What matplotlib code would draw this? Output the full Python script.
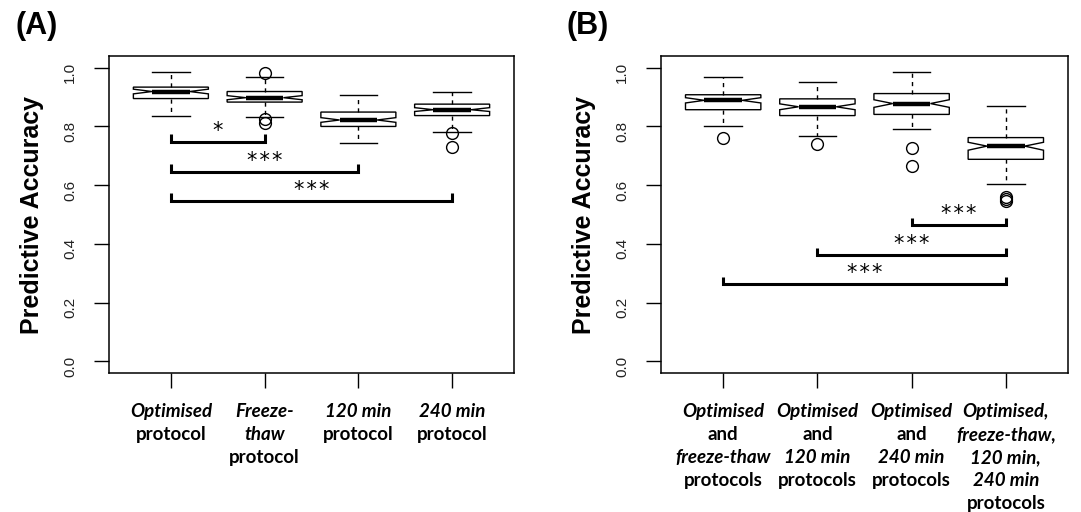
import matplotlib
matplotlib.use("Agg")
import matplotlib.pyplot as plt

plt.rcParams['font.family'] = ['Liberation Sans', 'DejaVu Sans']

# box statistics read per group: lower whisker, q1, median, q3, upper whisker
A_WHISLO = [0.837, 0.832, 0.743, 0.781]
A_Q1 = [0.895, 0.883, 0.800, 0.837]
A_MED = [0.919, 0.898, 0.822, 0.857]
A_Q3 = [0.934, 0.919, 0.849, 0.876]
A_WHISHI = [0.985, 0.968, 0.908, 0.919]
A_CILO = [0.911, 0.891, 0.814, 0.851]
A_CIHI = [0.927, 0.905, 0.830, 0.864]
A_FLIERS = [[], [0.982, 0.826, 0.813], [], [0.776, 0.729]]

B_WHISLO = [0.801, 0.768, 0.792, 0.604]
B_Q1 = [0.857, 0.837, 0.841, 0.688]
B_MED = [0.889, 0.867, 0.878, 0.733]
B_Q3 = [0.908, 0.894, 0.912, 0.762]
B_WHISHI = [0.968, 0.952, 0.986, 0.871]
B_CILO = [0.880, 0.857, 0.865, 0.719]
B_CIHI = [0.898, 0.877, 0.891, 0.746]
B_FLIERS = [[0.762], [0.740], [0.726, 0.664], [0.560, 0.553, 0.547]]

# significance brackets: (from group, to group, height, stars)
A_SIG = [(1, 2, 0.748, '*'), (1, 3, 0.646, '***'), (1, 4, 0.547, '***')]
B_SIG = [(3, 4, 0.464, '***'), (2, 4, 0.362, '***'), (1, 4, 0.263, '***')]

# x labels, one entry per line: (text, italic)
A_LABELS = [
    [('Optimised', True), ('protocol', False)],
    [('Freeze-', True), ('thaw', True), ('protocol', False)],
    [('120 min', True), ('protocol', False)],
    [('240 min', True), ('protocol', False)],
]
B_LABELS = [
    [('Optimised', True), ('and', False), ('freeze-thaw', True), ('protocols', False)],
    [('Optimised', True), ('and', False), ('120 min', True), ('protocols', False)],
    [('Optimised', True), ('and', False), ('240 min', True), ('protocols', False)],
    [('Optimised,', True), ('freeze-thaw,', True), ('120 min,', True),
     ('240 min', True), ('protocols', False)],
]

Y_TICKS = [0.0, 0.2, 0.4, 0.6, 0.8, 1.0]
W, H = 1081, 512


def make_stats(whislo, q1, med, q3, whishi, cilo, cihi, fliers):
    stats = []
    for i in range(len(med)):
        stats.append(dict(whislo=whislo[i], q1=q1[i], med=med[i], q3=q3[i],
                          whishi=whishi[i], cilo=cilo[i], cihi=cihi[i],
                          fliers=fliers[i]))
    return stats


def draw_panel(ax, stats, sig, labels, tag):
    pos = list(range(1, len(stats) + 1))
    ax.bxp(stats, positions=pos, widths=0.8, capwidths=0.4, shownotches=True,
           patch_artist=True,
           boxprops=dict(facecolor='white', edgecolor='black', linewidth=1.0),
           medianprops=dict(color='black', linewidth=3.2, solid_capstyle='butt'),
           whiskerprops=dict(color='black', linewidth=1.0, linestyle=(0, (3, 3))),
           capprops=dict(color='black', linewidth=1.0),
           flierprops=dict(marker='o', markersize=8.5, markerfacecolor='none',
                           markeredgecolor='black', markeredgewidth=1.0,
                           linestyle='none'))

    for x0, x1, y, stars in sig:
        ax.plot([x0, x0, x1, x1], [y + 0.025, y, y, y + 0.025], color='black',
                linewidth=2.2, solid_joinstyle='miter', solid_capstyle='butt')
        ax.text((x0 + x1) / 2, y + 0.002, '\u200a'.join(stars), ha='center',
                va='bottom', fontsize=15, family='DejaVu Sans')

    ax.set_xlim(0.34, 4.66)
    ax.set_ylim(-0.04, 1.04)
    ax.set_xticks(pos)
    ax.set_xticklabels([])
    ax.set_yticks(Y_TICKS)
    ax.set_yticklabels(['%.1f' % v for v in Y_TICKS])
    ax.tick_params(axis='both', length=11, width=1.0, color='black')
    ax.tick_params(axis='y', labelrotation=90, labelsize=11, pad=12,
                   labelcolor='#222222')
    for s in ax.spines.values():
        s.set_linewidth(1.1)

    for x, lines in zip(pos, labels):
        for k, (txt, ital) in enumerate(lines):
            ax.annotate(txt, xy=(x, 0), xycoords=('data', 'axes fraction'),
                        xytext=(0, -27.5 - 16.6 * k), textcoords='offset points',
                        ha='center', va='center', fontsize=13.5,
                        family='Lato', weight='bold',
                        style='italic' if ital else 'normal')

    ax.text(-0.19, 0.5, 'Predictive Accuracy', transform=ax.transAxes,
            rotation=90, ha='center', va='center', fontsize=18, weight='bold')
    ax.text(-0.232, 1.143, tag, transform=ax.transAxes, ha='left', va='top',
            fontsize=22, weight='bold')


fig = plt.figure(figsize=(W / 100, H / 100), dpi=100)
ax_a = fig.add_axes([109 / W, 1 - 373 / H, 405 / W, 317 / H])
ax_b = fig.add_axes([661 / W, 1 - 373 / H, 407 / W, 317 / H])

draw_panel(ax_a, make_stats(A_WHISLO, A_Q1, A_MED, A_Q3, A_WHISHI,
                            A_CILO, A_CIHI, A_FLIERS), A_SIG, A_LABELS, '(A)')
draw_panel(ax_b, make_stats(B_WHISLO, B_Q1, B_MED, B_Q3, B_WHISHI,
                            B_CILO, B_CIHI, B_FLIERS), B_SIG, B_LABELS, '(B)')

fig.savefig('out.png', dpi=100)
